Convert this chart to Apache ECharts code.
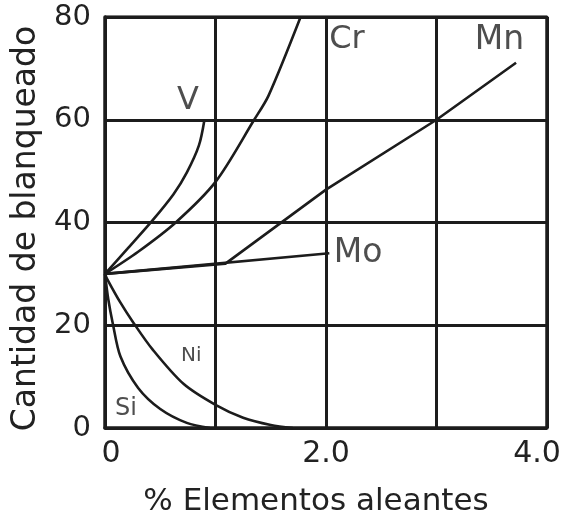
<!DOCTYPE html>
<html>
<head>
<meta charset="utf-8">
<script src="https://cdn.jsdelivr.net/npm/echarts@6/dist/echarts.min.js"></script>
<style>
  html, body { margin: 0; padding: 0; background: #fff; }
  #chart { width: 574px; height: 522px; }
</style>
</head>
<body>
<div id="chart"></div>
<script>
// Chill depth vs. alloying element content
const xTickValues = [0, 2, 4];
const xTickLabels = ['0', '2.0', '4.0'];
const yTickValues = [0, 20, 40, 60, 80];

const vanadium   = [[0, 30], [0.2, 34.8], [0.43, 40.4], [0.62, 45.5], [0.74, 49.7], [0.85, 55], [0.9, 60]];
const chromium   = [[0, 30], [0.3, 34.3], [0.64, 40], [1.0, 47.9], [1.35, 60], [1.48, 64.7], [1.77, 80]];
const manganese  = [[0, 30], [1.09, 32], [2.0, 46.4], [3.0, 60], [3.72, 71.1]];
const molybdenum = [[0, 30], [2.03, 34]];
const nickel     = [[0, 30], [0.02, 29], [0.14, 24.4], [0.26, 20.4], [0.43, 15.3], [0.71, 8.6], [1.0, 4.5], [1.25, 2], [1.5, 0.6], [1.7, 0]];
const silicon    = [[0, 30], [0.03, 25], [0.07, 20.4], [0.14, 13.9], [0.3, 7.8], [0.5, 3.7], [0.74, 1.0], [0.95, 0]];

const curveNames = ['V', 'Cr', 'Mn', 'Mo', 'Ni', 'Si'];
const curveLabelPos = [[0.75, 63.7], [2.19, 75.6], [3.57, 75.4], [2.29, 34.0], [0.78, 14.0], [0.19, 3.8]];
const curveLabelSize = [32, 32, 33, 33, 20, 24];

const ink = '#1c1c1c';
const font = 'DejaVu Sans';

function curve(name, data, smooth) {
  return {
    name: name,
    type: 'line',
    data: data,
    showSymbol: false,
    smooth: smooth,
    lineStyle: { color: ink, width: 2.6 },
    z: 3,
    silent: true
  };
}

const chart = echarts.init(document.getElementById('chart'), null, { renderer: 'canvas' });

chart.setOption({
  animation: false,
  backgroundColor: '#fff',
  textStyle: { fontFamily: font },
  grid: { left: 105, right: 27, top: 17, bottom: 87, containLabel: false },
  xAxis: {
    type: 'value',
    min: 0, max: 4, interval: 1,
    name: '% Elementos aleantes',
    nameLocation: 'middle',
    nameGap: 58,
    nameTextStyle: { fontFamily: font, fontSize: 31, color: '#222', padding: [0, 20, 0, 0] },
    axisLine: { show: true, lineStyle: { color: ink, width: 3.5 } },
    axisTick: { show: false },
    axisLabel: {
      fontFamily: font, fontSize: 30, color: '#222', margin: 11,
      formatter: function (v) {
        const i = xTickValues.indexOf(v);
        if (i < 0) return '';
        if (i === 0) return '{first|' + xTickLabels[i] + '}';
        if (i === xTickValues.length - 1) return '{last|' + xTickLabels[i] + '}';
        return xTickLabels[i];
      },
      rich: {
        first: { fontFamily: font, fontSize: 30, color: '#222', padding: [0, 0, 0, 12] },
        last: { fontFamily: font, fontSize: 30, color: '#222', padding: [0, 20, 0, 0] }
      }
    },
    splitLine: { show: true, lineStyle: { color: ink, width: 3 } }
  },
  yAxis: {
    type: 'value',
    min: 0, max: 80, interval: 20,
    name: 'Cantidad de blanqueado',
    nameLocation: 'middle',
    nameGap: 50,
    nameRotate: 90,
    nameTextStyle: { fontFamily: font, fontSize: 33, color: '#222', padding: [0, 12, 0, 0] },
    axisLine: { show: true, lineStyle: { color: ink, width: 3.5 } },
    axisTick: { show: false },
    axisLabel: {
      fontFamily: font, fontSize: 29, color: '#222', margin: 14,
      formatter: function (v) { return yTickValues.indexOf(v) >= 0 ? String(v) : ''; }
    },
    splitLine: { show: true, lineStyle: { color: ink, width: 3 } }
  },
  series: [
    curve('V', vanadium, 0.3),
    curve('Cr', chromium, 0.3),
    curve('Mn', manganese, false),
    curve('Mo', molybdenum, false),
    curve('Ni', nickel, 0.3),
    curve('Si', silicon, 0.3),
    {
      type: 'scatter',
      symbolSize: 0,
      silent: true,
      z: 4,
      data: curveNames.map(function (n, i) {
        return {
          value: curveLabelPos[i],
          label: {
            show: true, position: 'inside', formatter: n,
            fontFamily: font, fontSize: curveLabelSize[i], color: '#222'
          }
        };
      })
    },
    {
      // plot frame on top and right
      type: 'line',
      data: [[0, 80], [4, 80], [4, 0]],
      showSymbol: false,
      lineStyle: { color: ink, width: 3.5 },
      silent: true,
      z: 2
    }
  ]
});
</script>
</body>
</html>
